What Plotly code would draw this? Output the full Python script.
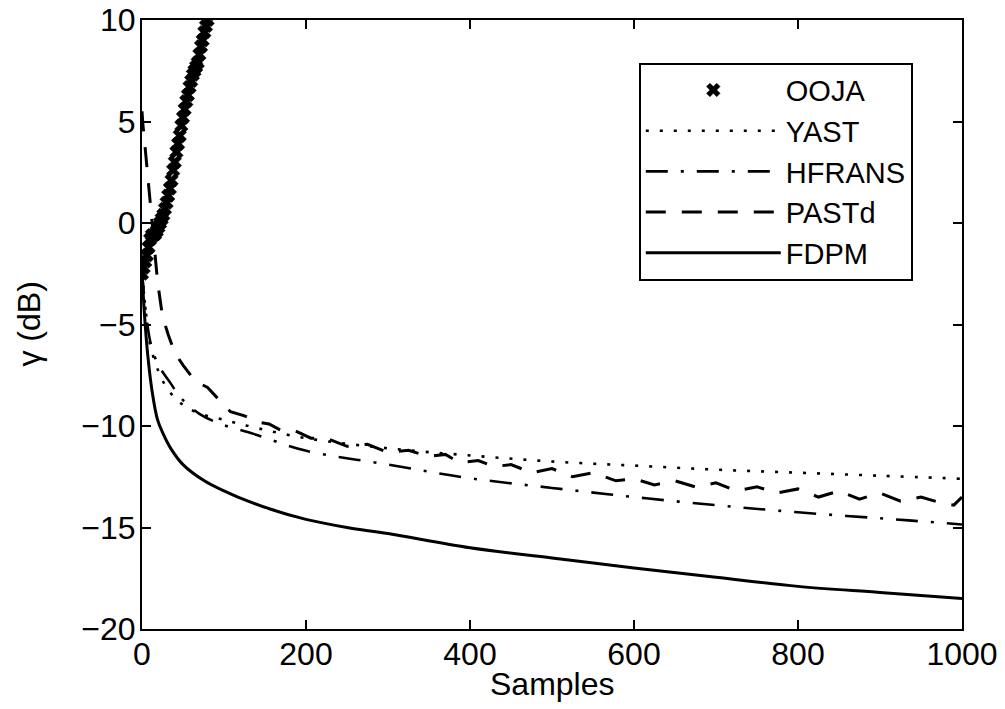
import plotly.graph_objects as go

# ---------------- data ----------------
ooja_x = [0, 2, 4, 6, 8, 10, 12, 14, 16, 18, 20, 22, 24, 26, 28, 30, 32, 34, 36, 38, 40,
          42, 44, 46, 48, 50, 52, 54, 56, 58, 60, 62, 64, 66, 68, 70, 72, 74, 76, 78, 80, 82, 84]
ooja_y = [-2.5, -2.2, -1.9, -1.6, -1.2, -0.8, -0.6, -0.6, -0.55, -0.4, -0.2, 0.0, 0.2, 0.4,
          0.7, 1.0, 1.35, 1.7, 2.1, 2.6, 3.0, 3.5, 3.9, 4.3, 4.8, 5.2, 5.6, 6.0, 6.3, 6.7,
          7.0, 7.3, 7.5, 7.7, 7.9, 8.3, 8.7, 9.0, 9.4, 9.7, 10.0, 10.3, 10.7]

yast_x = [0, 5, 10, 20, 30, 45, 65, 100, 140, 200, 300, 400, 500, 600, 700, 800, 900, 1000]
yast_y = [-2.4, -4.5, -6.0, -7.3, -8.1, -8.8, -9.3, -9.7, -10.1, -10.6, -11.1, -11.45,
          -11.75, -11.95, -12.15, -12.3, -12.45, -12.6]

hfrans_x = [0, 5, 11, 20, 35, 47, 70, 96, 137, 198, 300, 396, 500, 600, 700, 800, 935, 1000]
hfrans_y = [-2.4, -4.5, -6.0, -7.0, -7.9, -8.6, -9.4, -9.9, -10.4, -11.2, -11.9, -12.55,
            -13.05, -13.5, -13.9, -14.25, -14.65, -14.85]

pastd_x = [0, 1, 5, 10, 15, 19, 25, 32, 40, 50, 65, 80, 96, 108, 125, 141, 155, 169, 185,
           206, 225, 250, 275, 300, 325, 350, 370, 387, 410, 430, 450, 475, 500, 525, 550,
           578, 600, 625, 650, 675, 700, 725, 750, 775, 800, 825, 850, 875, 900, 925, 950,
           975, 990, 1000]
pastd_y = [5.5, 4.9, 3.2, 1.1, -1.0, -2.9, -4.6, -5.5, -6.4, -7.0, -7.8, -8.1, -8.8, -9.3,
           -9.5, -9.8, -9.9, -10.2, -10.2, -10.6, -10.6, -11.0, -10.9, -11.3, -11.2, -11.5,
           -11.4, -11.8, -11.7, -12.0, -11.9, -12.3, -12.1, -12.5, -12.3, -12.7, -12.6,
           -12.9, -12.7, -13.0, -12.8, -13.2, -13.0, -13.3, -13.1, -13.5, -13.2, -13.6,
           -13.3, -13.7, -13.5, -13.8, -13.9, -13.5]

fdpm_x = [0, 3, 7, 12, 19, 26, 35, 50, 76, 100, 117, 157, 200, 250, 300, 400, 500, 600,
          700, 800, 900, 1000]
fdpm_y = [-2.4, -4.5, -6.5, -8.2, -9.7, -10.4, -11.1, -11.9, -12.7, -13.2, -13.5, -14.1,
          -14.6, -15.0, -15.3, -16.0, -16.5, -17.0, -17.45, -17.9, -18.2, -18.5]

x_ticks = [0, 200, 400, 600, 800, 1000]
y_ticks = [-20, -15, -10, -5, 0, 5, 10]

# ---------------- figure ----------------
FONT = "Liberation Sans, Arial, sans-serif"
FS = 32
LW = 2.6

fig = go.Figure()
fig.add_trace(go.Scatter(x=ooja_x, y=ooja_y, mode="markers", name="OOJA",
                         marker=dict(symbol="x", size=12, color="black",
                                     line=dict(width=0.5, color="black"))))
fig.add_trace(go.Scatter(x=yast_x, y=yast_y, mode="lines", name="YAST",
                         line=dict(color="black", width=LW, dash="3px,11px", shape="spline")))
fig.add_trace(go.Scatter(x=hfrans_x, y=hfrans_y, mode="lines", name="HFRANS",
                         line=dict(color="black", width=LW, dash="22px,13px,3px,13px",
                                   shape="spline")))
fig.add_trace(go.Scatter(x=pastd_x, y=pastd_y, mode="lines", name="PASTd",
                         line=dict(color="black", width=LW + 0.4, dash="20px,16px")))
fig.add_trace(go.Scatter(x=fdpm_x, y=fdpm_y, mode="lines", name="FDPM",
                         line=dict(color="black", width=3, shape="spline")))

axis_common = dict(
    showline=True, linecolor="black", linewidth=2, mirror="ticks",
    ticks="inside", ticklen=9, tickwidth=2, tickcolor="black",
    showgrid=False, zeroline=False, automargin=False,
    ticklabeloverflow="allow",
    tickfont=dict(family=FONT, size=FS, color="black"),
)

fig.update_layout(
    width=1005, height=709,
    margin=dict(l=142, r=43, t=20, b=80),
    paper_bgcolor="white", plot_bgcolor="white",
    font=dict(family=FONT, size=FS, color="black"),
    xaxis=dict(range=[0, 1000], tickvals=x_ticks, ticklabelstandoff=-4, **axis_common),
    yaxis=dict(range=[-20, 10], tickvals=y_ticks, ticklabelstandoff=-2, **axis_common),
    legend=dict(x=0.94, y=0.93, xanchor="right", yanchor="top",
                bgcolor="white", bordercolor="black", borderwidth=2,
                font=dict(family=FONT, size=29, color="black"),
                tracegroupgap=0, itemwidth=135),
    showlegend=True,
    annotations=[
        dict(text="Samples", xref="paper", yref="paper", x=0.5, y=-0.0903,
             xanchor="center", yanchor="middle", showarrow=False,
             font=dict(family=FONT, size=FS, color="black")),
        dict(text="γ (dB)", xref="paper", yref="paper", x=-0.139, y=0.5,
             xanchor="center", yanchor="middle", showarrow=False, textangle=-90,
             font=dict(family=FONT, size=FS, color="black")),
    ],
)

fig.write_html("out.html",
               config={"displayModeBar": False},
               post_script="document.body.style.margin='0';document.body.style.padding='0';")
